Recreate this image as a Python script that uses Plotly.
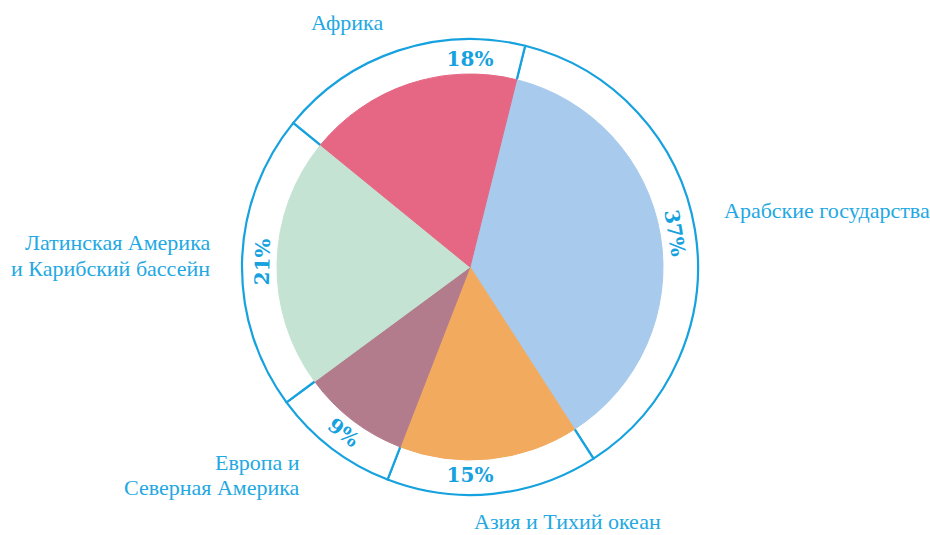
import plotly.graph_objects as go

# Data
regions = ["Арабские государства", "Азия и Тихий океан", "Европа и Северная Америка",
           "Латинская Америка и Карибский бассейн", "Африка"]
shares = [37, 15, 9, 21, 18]
label_lines = [["Арабские государства"], ["Азия и Тихий океан"], ["Европа и", "Северная Америка"],
               ["Латинская Америка", "и Карибский бассейн"], ["Африка"]]

# Styles
slice_colors = ["#A8CAEC", "#F2AA5E", "#B27C8D", "#C5E3D3", "#E66783"]
blue = "#16A1DF"
label_blue = "#22A8E2"
W, H = 930, 535
cx, cy = 470, 267
r_pie, r_ring, r_hole = 193, 228, 190
rotation = 14
line_gap = 26

def domain(r):
    return dict(x=[(cx - r) / W, (cx + r) / W],
                y=[(H - cy - r) / H, (H - cy + r) / H])

fig = go.Figure()

# Outer ring with percent labels
fig.add_trace(go.Pie(
    labels=regions, values=shares, sort=False, direction="clockwise", rotation=rotation,
    domain=domain(r_ring), hole=r_hole / r_ring,
    marker=dict(colors=["white"] * len(shares), line=dict(color=blue, width=2.2)),
    texttemplate="<b>%{value}%</b>", textposition="inside",
    insidetextorientation="tangential",
    textfont=dict(color=blue, size=20, family="DejaVu Serif"),
    hoverinfo="skip", showlegend=False,
))

# Coloured pie
fig.add_trace(go.Pie(
    labels=regions, values=shares, sort=False, direction="clockwise", rotation=rotation,
    domain=domain(r_pie),
    marker=dict(colors=slice_colors, line=dict(color=slice_colors, width=1)),
    textinfo="none", hoverinfo="label+percent", showlegend=False,
))

# Outer labels (text positions in pixels: anchor x, first-line centre y)
label_pos = [(722, 210, "left"), (567, 521, "center"), (302, 462, "right"),
             (212, 242, "right"), (347, 22, "center")]
for lines, (px, py, anc) in zip(label_lines, label_pos):
    for i, ln in enumerate(lines):
        fig.add_annotation(
            x=px / W, y=1 - (py + i * line_gap) / H, xref="paper", yref="paper",
            text=ln, showarrow=False, xanchor=anc, yanchor="middle",
            font=dict(color=label_blue, size=22, family="Liberation Serif"),
        )

fig.update_layout(
    width=W, height=H, margin=dict(l=0, r=0, t=0, b=0),
    paper_bgcolor="white", plot_bgcolor="white",
)

fig.write_html("out.html", config={"displayModeBar": False},
               post_script="document.body.style.margin='0';document.body.style.overflow='hidden';")
